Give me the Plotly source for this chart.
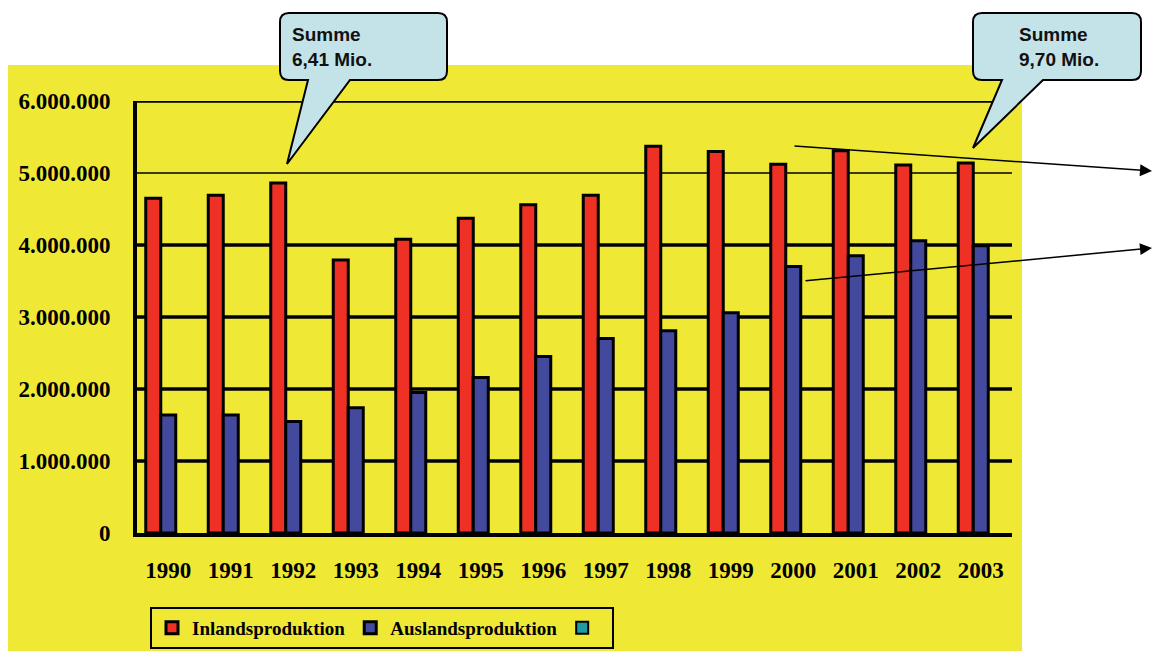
import plotly.graph_objects as go

# Production figures per year (units)
years = ["1990", "1991", "1992", "1993", "1994", "1995", "1996",
         "1997", "1998", "1999", "2000", "2001", "2002", "2003"]
inland = [4650000, 4690000, 4860000, 3790000, 4080000, 4370000, 4560000,
          4690000, 5370000, 5300000, 5120000, 5310000, 5110000, 5140000]
ausland = [1640000, 1640000, 1550000, 1740000, 1950000, 2160000, 2450000,
           2700000, 2810000, 3060000, 3700000, 3850000, 4060000, 3990000]
third = [None] * len(years)

tick_vals = [0, 1000000, 2000000, 3000000, 4000000, 5000000, 6000000]
tick_text = ["0", "1.000.000", "2.000.000", "3.000.000", "4.000.000",
             "5.000.000", "6.000.000"]

callout_left = ["Summe", "6,41 Mio."]
callout_right = ["Summe", "9,70 Mio."]

W, H = 1154, 651
L, R, T, B = 137, 1012, 101, 533
YELLOW = "#EFE936"
SERIF = "Liberation Serif, Times New Roman, serif"
SANS = "Liberation Sans, Arial, sans-serif"


def px(x):
    return (x - L) / (R - L)


def py(y):
    return (B - y) / (B - T)


fig = go.Figure()
fig.add_bar(x=years, y=inland, name="Inlandsproduktion",
            marker=dict(color="#EE3124", line=dict(color="black", width=3)))
fig.add_bar(x=years, y=ausland, name="Auslandsproduktion",
            marker=dict(color="#434A9E", line=dict(color="black", width=3)))
fig.add_bar(x=years, y=third, name=" ",
            marker=dict(color="#1E9CA2", line=dict(color="black", width=2)))

shapes = []
# yellow chart area
shapes.append(dict(type="rect", xref="paper", yref="paper", layer="below",
                   x0=px(8), x1=px(1022), y0=py(651), y1=py(65),
                   fillcolor=YELLOW, line=dict(width=0)))
# horizontal grid lines
for v in tick_vals[1:]:
    shapes.append(dict(type="line", xref="paper", yref="y", layer="below",
                       x0=0, x1=1, y0=v, y1=v,
                       line=dict(color="black", width=1.5 if v == 5000000 else 3.5)))


def bubble(x0, y0, x1, y1, bx0, bx1, tipx, tipy, r=9):
    pts = [
        f"M{px(x0 + r)},{py(y0)}",
        f"L{px(x1 - r)},{py(y0)}",
        f"Q{px(x1)},{py(y0)} {px(x1)},{py(y0 + r)}",
        f"L{px(x1)},{py(y1 - r)}",
        f"Q{px(x1)},{py(y1)} {px(x1 - r)},{py(y1)}",
        f"L{px(bx1)},{py(y1)}",
        f"L{px(tipx)},{py(tipy)}",
        f"L{px(bx0)},{py(y1)}",
        f"L{px(x0 + r)},{py(y1)}",
        f"Q{px(x0)},{py(y1)} {px(x0)},{py(y1 - r)}",
        f"L{px(x0)},{py(y0 + r)}",
        f"Q{px(x0)},{py(y0)} {px(x0 + r)},{py(y0)}",
        "Z",
    ]
    return dict(type="path", xref="paper", yref="paper", layer="above",
                path=" ".join(pts), fillcolor="#C4E3E8",
                line=dict(color="black", width=2))


shapes.append(bubble(280, 13, 447, 80, 308, 350, 287, 164))
shapes.append(bubble(973, 13, 1141, 80, 1002, 1043, 973, 148))

annotations = [
    dict(xref="paper", yref="paper", x=px(290), y=py(47), xanchor="left",
         yanchor="middle", align="left", showarrow=False,
         text="<br>".join(callout_left),
         font=dict(family=SANS, size=19, color="#111", weight="bold")),
    dict(xref="paper", yref="paper", x=px(1017), y=py(47), xanchor="left",
         yanchor="middle", align="left", showarrow=False,
         text="<br>".join(callout_right),
         font=dict(family=SANS, size=19, color="#111", weight="bold")),
    dict(xref="paper", yref="paper", x=px(1152), y=py(171), ax=793 - 1152,
         ay=146 - 171, showarrow=True, arrowhead=2, arrowsize=1.6,
         arrowwidth=1.5, arrowcolor="black", text=""),
    dict(xref="paper", yref="paper", x=px(1152), y=py(248), ax=804 - 1152,
         ay=281 - 248, showarrow=True, arrowhead=2, arrowsize=1.6,
         arrowwidth=1.5, arrowcolor="black", text=""),
]

fig.update_layout(
    width=W, height=H,
    margin=dict(l=L, r=W - R, t=T, b=H - B, pad=0, autoexpand=False),
    paper_bgcolor="white",
    plot_bgcolor="rgba(0,0,0,0)",
    barmode="group", bargap=0.28, bargroupgap=0,
    showlegend=True,
    legend=dict(orientation="h", xref="container", yref="container",
                x=382 / W, y=1 - 607 / H, xanchor="center",
                yanchor="top", bgcolor=YELLOW, bordercolor="black",
                borderwidth=2, itemwidth=30, traceorder="normal",
                font=dict(family=SERIF, size=19, color="black", weight="bold")),
    shapes=shapes,
    annotations=annotations,
)
fig.update_xaxes(showline=True, linecolor="black", linewidth=4, automargin=False,
                 showgrid=False, ticks="", ticklabelstandoff=13,
                 tickfont=dict(family=SERIF, size=23, color="black", weight="bold"))
fig.update_yaxes(range=[0, 6000000], tickvals=tick_vals, ticktext=tick_text,
                 showline=True, linecolor="black", linewidth=4, mirror=False,
                 showgrid=False, zeroline=False, ticks="", automargin=False,
                 ticklabelstandoff=18,
                 tickfont=dict(family=SERIF, size=23, color="black", weight="bold"))

fig.write_html("out.html")
